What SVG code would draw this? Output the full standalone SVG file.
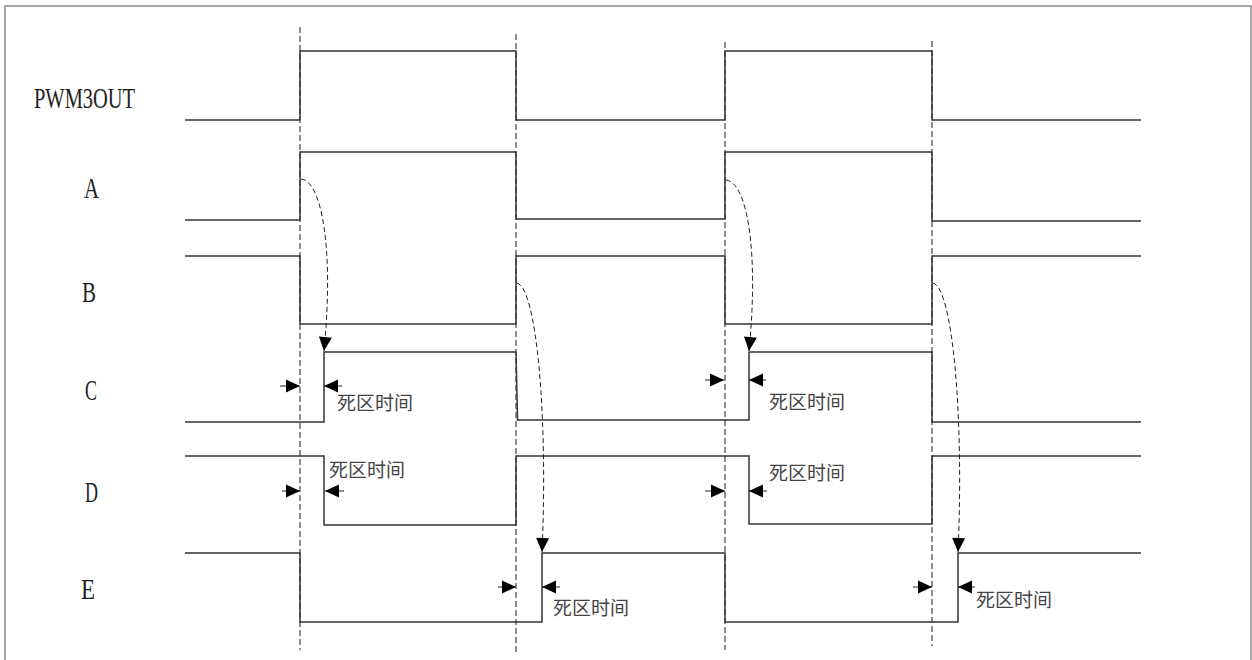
<svg xmlns="http://www.w3.org/2000/svg" width="1252" height="660" viewBox="0 0 1252 660">
<defs>
<style>
.w{fill:none;stroke:#333;stroke-width:1.5}
.g{fill:none;stroke:#444;stroke-width:1.2;stroke-dasharray:6,3}
.c{fill:none;stroke:#222;stroke-width:1;stroke-dasharray:5,3}
.d{fill:none;stroke:#222;stroke-width:1}
.lbl{font-family:"Liberation Serif","Noto Serif",serif;font-size:30px;fill:#222}
.dz{font-family:"Noto Sans CJK SC","Noto Sans",sans-serif;font-size:19px;fill:#444}
</style>
<marker id="ah" markerUnits="userSpaceOnUse" markerWidth="16" markerHeight="14" refX="14" refY="6.5" orient="auto" overflow="visible">
<path d="M0,0 L14,6.5 L0,13 z" fill="#000"/>
</marker>
</defs>
<rect width="1252" height="660" fill="#fff"/>
<path d="M5,660 V6 H1251 V660" fill="none" stroke="#888" stroke-width="1.5"/>

<g id="guides">
<line class="g" x1="300" y1="27" x2="300" y2="650"/>
<line class="g" x1="516" y1="34" x2="516" y2="653"/>
<line class="g" x1="725" y1="42" x2="725" y2="650"/>
<line class="g" x1="932" y1="41" x2="932" y2="646"/>
</g>

<g id="labels">
<text class="lbl" x="34" y="108" textLength="101" lengthAdjust="spacingAndGlyphs">PWM3OUT</text>
<text class="lbl" x="84" y="198" textLength="15" lengthAdjust="spacingAndGlyphs">A</text>
<text class="lbl" x="82" y="302" textLength="14" lengthAdjust="spacingAndGlyphs">B</text>
<text class="lbl" x="85" y="400" textLength="12" lengthAdjust="spacingAndGlyphs">C</text>
<text class="lbl" x="85" y="502" textLength="13" lengthAdjust="spacingAndGlyphs">D</text>
<text class="lbl" x="81" y="599" textLength="14" lengthAdjust="spacingAndGlyphs">E</text>
</g>

<g id="PWM3OUT">
<path class="w" d="M185,120 H300 V51 H516 V120 H725 V51 H932 V120 H1141"/>
</g>
<g id="A">
<path class="w" d="M185,220 H300 V152 H516 V219 H725 V152 H932 V221 H1141"/>
</g>
<g id="B">
<path class="w" d="M185,256 H300 V324 H516 V256 H725 V324 H932 V256 H1141"/>
</g>
<g id="C">
<path class="w" d="M185,422 H324 V352 H516 L517.5,420 H749 V352 H932 V422 H1141"/>
</g>
<g id="D">
<path class="w" d="M185,456 H324 V525 H516 V456 H749 V524 H932 V456 H1141"/>
</g>
<g id="E">
<path class="w" d="M185,553 H300 V622 H542 V553 H725 V622 H958 V553 H1141"/>
</g>

<g id="connectors">
<path class="c" d="M301,179 C322,181 334,250 324,351" marker-end="url(#ah)"/>
<path class="c" d="M517,283 C537,288 548,420 542,552" marker-end="url(#ah)"/>
<path class="c" d="M726,180 C747,182 759,250 749,351" marker-end="url(#ah)"/>
<path class="c" d="M933,283 C953,288 964,420 958,552" marker-end="url(#ah)"/>

<line class="d" x1="280" y1="386" x2="300" y2="386" marker-end="url(#ah)"/>
<line class="d" x1="342" y1="386" x2="324" y2="386" marker-end="url(#ah)"/>
<line class="d" x1="282" y1="491" x2="300" y2="491" marker-end="url(#ah)"/>
<line class="d" x1="344" y1="491" x2="325" y2="491" marker-end="url(#ah)"/>
<line class="d" x1="498" y1="587" x2="516" y2="587" marker-end="url(#ah)"/>
<line class="d" x1="560" y1="587" x2="542" y2="587" marker-end="url(#ah)"/>
<line class="d" x1="705" y1="380" x2="724" y2="380" marker-end="url(#ah)"/>
<line class="d" x1="766" y1="380" x2="749" y2="380" marker-end="url(#ah)"/>
<line class="d" x1="705" y1="491" x2="725" y2="491" marker-end="url(#ah)"/>
<line class="d" x1="767" y1="491" x2="749" y2="491" marker-end="url(#ah)"/>
<line class="d" x1="913" y1="587" x2="932" y2="587" marker-end="url(#ah)"/>
<line class="d" x1="975" y1="587" x2="958" y2="587" marker-end="url(#ah)"/>
</g>

<g id="deadtime-labels">
<text class="dz" x="337" y="410">死区时间</text>
<text class="dz" x="329" y="477">死区时间</text>
<text class="dz" x="553" y="615">死区时间</text>
<text class="dz" x="769" y="409">死区时间</text>
<text class="dz" x="769" y="480">死区时间</text>
<text class="dz" x="976" y="607">死区时间</text>
</g>
</svg>
